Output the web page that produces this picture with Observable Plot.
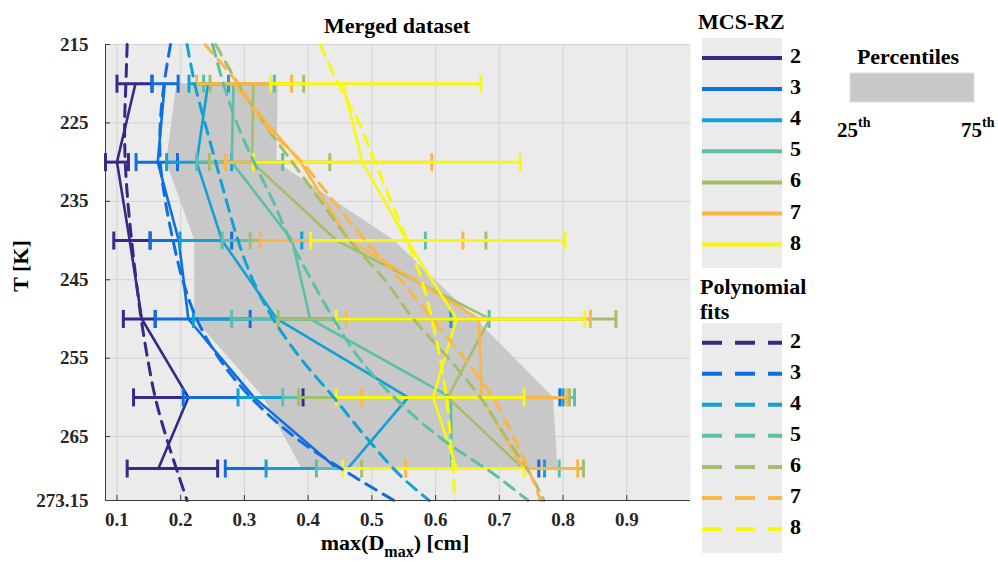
<!DOCTYPE html>
<html><head><meta charset="utf-8">
<script src="https://cdn.jsdelivr.net/npm/d3@7"></script>
<script src="https://cdn.jsdelivr.net/npm/@observablehq/plot@0.6"></script>
<style>
body{margin:0;background:#fff;}
#wrap{position:relative;width:998px;height:562px;font-family:"Liberation Serif","Times New Roman",serif;}
#wrap svg{position:absolute;left:0;top:0;}
#wrap svg text{font-family:"Liberation Serif","Times New Roman",serif !important;font-weight:bold;}
</style></head>
<body><div id="wrap"></div>
<script>
// ---- data ----
const tRows = [220, 230, 240, 250, 260, 269.075];
const sizes = [2, 3, 4, 5, 6, 7, 8];
const colors = ["#352a87", "#0f6ee1", "#13a0d4", "#5cbfa9", "#a4be6b", "#fbb646", "#f8f80f"];
// solid lines (per size, per temperature row)
const medians = [
  [0.129, 0.100, 0.120, 0.139, 0.212, 0.165],
  [0.175, 0.164, 0.197, 0.212, 0.315, 0.445],
  [0.243, 0.225, 0.265, 0.351, 0.557, 0.462],
  [0.283, 0.280, 0.375, 0.403, 0.624, 0.625],
  [0.314, 0.312, 0.445, 0.685, 0.619, 0.737],
  [0.283, 0.388, 0.465, 0.668, 0.672, 0.737],
  [0.455, 0.485, 0.555, 0.633, 0.596, 0.633]
];
// error bar ends
const lowers = [
  [0.100, 0.082, 0.095, 0.110, 0.126, 0.116],
  [0.155, 0.130, 0.152, 0.160, 0.204, 0.270],
  [0.213, 0.178, 0.199, 0.220, 0.290, 0.334],
  [0.236, 0.225, 0.265, 0.280, 0.360, 0.413],
  [0.246, 0.245, 0.309, 0.353, 0.385, 0.484],
  [0.225, 0.270, 0.325, 0.460, 0.484, 0.553],
  [0.341, 0.314, 0.404, 0.444, 0.444, 0.454]
];
const uppers = [
  [0.155, 0.118, 0.152, 0.160, 0.392, 0.258],
  [0.196, 0.195, 0.280, 0.309, 0.795, 0.762],
  [0.275, 0.280, 0.390, 0.624, 0.800, 0.771],
  [0.347, 0.360, 0.584, 0.684, 0.818, 0.794],
  [0.393, 0.434, 0.679, 0.883, 0.810, 0.832],
  [0.374, 0.594, 0.643, 0.843, 0.806, 0.823],
  [0.671, 0.733, 0.803, 0.834, 0.739, 0.739]
];
// 25th / 75th percentile band
const pct25 = [0.194, 0.178, 0.222, 0.222, 0.330, 0.390];
const pct75 = [0.353, 0.351, 0.535, 0.663, 0.785, 0.792];
// polynomial fits
const fitT = [215, 220, 225, 230, 235, 240, 245, 250, 255, 260, 265, 270, 273.15];
const fits = [
  [0.116, 0.114, 0.112, 0.113, 0.117, 0.123, 0.130, 0.138, 0.148, 0.160, 0.177, 0.197, 0.210],
  [0.184, 0.174, 0.168, 0.168, 0.176, 0.188, 0.203, 0.225, 0.260, 0.310, 0.378, 0.470, 0.535],
  [0.210, 0.222, 0.238, 0.255, 0.272, 0.290, 0.313, 0.345, 0.388, 0.440, 0.490, 0.545, 0.590],
  [0.250, 0.267, 0.288, 0.315, 0.345, 0.372, 0.405, 0.440, 0.480, 0.535, 0.605, 0.695, 0.745],
  [0.255, 0.290, 0.330, 0.375, 0.420, 0.465, 0.520, 0.565, 0.620, 0.670, 0.710, 0.750, 0.770],
  [0.238, 0.290, 0.330, 0.390, 0.440, 0.490, 0.545, 0.595, 0.645, 0.690, 0.722, 0.750, 0.765],
  [0.419, 0.447, 0.480, 0.505, 0.530, 0.555, 0.578, 0.594, 0.607, 0.617, 0.623, 0.628, 0.630]
];
const xTicks = [0.1, 0.2, 0.3, 0.4, 0.5, 0.6, 0.7, 0.8, 0.9];
const yTicks = [215, 225, 235, 245, 255, 265, 273.15];
const xDomain = [0.082, 1.0];
const yDomain = [215, 273.15];

// ---- build tables ----
const band = tRows.map((T, j) => ({T, lo: pct25[j], hi: pct75[j]}));
const seriesRows = sizes.map((s, i) => tRows.map((T, j) => ({size: s, T, m: medians[i][j], lo: lowers[i][j], hi: uppers[i][j]})));
const fitRows = sizes.map((s, i) => fitT.map((T, j) => ({size: s, T, v: fits[i][j]})));

const capSymbol = {draw(ctx, size) { const h = Math.sqrt(size / Math.PI); ctx.moveTo(0, -h); ctx.lineTo(0, h); }};

const seriesMarks = sizes.flatMap((s, i) => [
  Plot.ruleY(seriesRows[i], {y: "T", x1: "lo", x2: "hi", stroke: colors[i], strokeWidth: 3}),
  Plot.dot(seriesRows[i], {x: "lo", y: "T", symbol: capSymbol, r: 9, stroke: colors[i], fill: "none", strokeWidth: 3}),
  Plot.dot(seriesRows[i], {x: "hi", y: "T", symbol: capSymbol, r: 9, stroke: colors[i], fill: "none", strokeWidth: 3}),
  Plot.line(seriesRows[i], {x: "m", y: "T", stroke: colors[i], strokeWidth: 2.6})
]);
const fitMarks = sizes.map((s, i) =>
  Plot.line(fitRows[i], {x: "v", y: "T", stroke: colors[i], strokeWidth: 3, strokeDasharray: "12,8", curve: "catmull-rom"})
);

const FONT = '"Liberation Serif", "Times New Roman", serif';
const chart = Plot.plot({
  width: 998, height: 562,
  marginLeft: 105, marginRight: 308, marginTop: 44, marginBottom: 62,
  style: {fontFamily: FONT, fontWeight: "bold", fontSize: "19px", background: "transparent", color: "#262626"},
  x: {domain: xDomain},
  y: {domain: yDomain, reverse: true},
  marks: [
    Plot.frame({fill: "#ebebeb", stroke: null}),
    Plot.gridX({ticks: xTicks, stroke: "#d2d2d2", strokeOpacity: 1}),
    Plot.gridY({ticks: yTicks, stroke: "#d2d2d2", strokeOpacity: 1}),
    Plot.areaX(band, {y: "T", x1: "lo", x2: "hi", fill: "#c8c8c8"}),
    ...seriesMarks,
    ...fitMarks,
    Plot.ruleY([yDomain[1]], {stroke: "#3a3a3a", strokeWidth: 1}),
    Plot.ruleX([xDomain[0]], {stroke: "#3a3a3a", strokeWidth: 1}),
    Plot.axisX({ticks: xTicks, tickSize: -5, tickFormat: () => "", label: null, stroke: "#3a3a3a"}),
    Plot.axisY({ticks: yTicks, tickSize: -5, tickFormat: () => "", label: null, stroke: "#3a3a3a"}),
    Plot.axisX({ticks: xTicks, tickSize: 0, tickPadding: 12, tickFormat: d => d.toFixed(1), label: null, fontSize: 19, fill: "#262626"}),
    Plot.axisY({ticks: yTicks, tickSize: 0, tickPadding: 17, tickFormat: d => String(d), label: null, fontSize: 19, fill: "#262626"})
  ]
});
const wrap = document.getElementById("wrap");
wrap.appendChild(chart);

// ---- overlay: title, axis labels, legends ----
const svg = d3.select(wrap).append("svg").attr("width", 998).attr("height", 562)
  .style("font-family", FONT).style("font-weight", "bold");

svg.append("text").attr("x", 397).attr("y", 33).attr("text-anchor", "middle").attr("font-size", 22).attr("fill", "#000").text("Merged dataset");
svg.append("text").attr("transform", "translate(28,266) rotate(-90)").attr("text-anchor", "middle").attr("font-size", 22).attr("fill", "#000").text("T [K]");
const xl = svg.append("text").attr("x", 395).attr("y", 550).attr("text-anchor", "middle").attr("font-size", 22).attr("fill", "#000");
xl.append("tspan").text("max(D");
xl.append("tspan").attr("font-size", 16).attr("dy", 7).text("max");
xl.append("tspan").attr("dy", -7).text(") [cm]");

// legend: MCS-RZ
svg.append("text").attr("x", 698).attr("y", 29).attr("font-size", 22).attr("fill", "#000").text("MCS-RZ");
svg.append("rect").attr("x", 702).attr("y", 38).attr("width", 80).attr("height", 230).attr("fill", "#ebebeb");
sizes.forEach((s, i) => {
  const y = 58 + i * 31.1;
  svg.append("line").attr("x1", 702).attr("x2", 782).attr("y1", y).attr("y2", y).attr("stroke", colors[i]).attr("stroke-width", 4);
  svg.append("text").attr("x", 790).attr("y", y + 5).attr("font-size", 22).attr("fill", "#000").text(s);
});
// legend: Polynomial fits
svg.append("text").attr("x", 700).attr("y", 294).attr("font-size", 22).attr("fill", "#000").text("Polynomial");
svg.append("text").attr("x", 700).attr("y", 319).attr("font-size", 22).attr("fill", "#000").text("fits");
svg.append("rect").attr("x", 702).attr("y", 323).attr("width", 80).attr("height", 230).attr("fill", "#ebebeb");
sizes.forEach((s, i) => {
  const y = 342.7 + i * 31.05;
  svg.append("line").attr("x1", 702).attr("x2", 782).attr("y1", y).attr("y2", y).attr("stroke", colors[i]).attr("stroke-width", 4).attr("stroke-dasharray", "20,13");
  svg.append("text").attr("x", 790).attr("y", y + 5).attr("font-size", 22).attr("fill", "#000").text(s);
});
// legend: Percentiles
svg.append("text").attr("x", 908).attr("y", 64).attr("text-anchor", "middle").attr("font-size", 22).attr("fill", "#000").text("Percentiles");
svg.append("rect").attr("x", 850).attr("y", 73).attr("width", 124).attr("height", 29).attr("fill", "#c8c8c8").attr("stroke", "#dcdcdc");
[["25", 837], ["75", 961]].forEach(([p, x]) => {
  const t = svg.append("text").attr("x", x).attr("y", 137).attr("font-size", 21).attr("fill", "#000");
  t.append("tspan").text(p);
  t.append("tspan").attr("font-size", 14).attr("dy", -10).text("th");
});
</script>
</body></html>
